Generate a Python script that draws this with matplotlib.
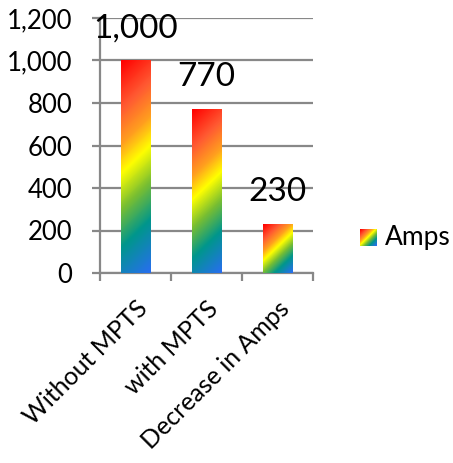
import numpy as np
import matplotlib
matplotlib.use("Agg")
import matplotlib.pyplot as plt
from matplotlib.colors import LinearSegmentedColormap

categories = ["Without MPTS", "with MPTS", "Decrease in Amps"]
amps = [1000, 770, 230]
value_labels = ["1,000", "770", "230"]
y_ticks = [0, 200, 400, 600, 800, 1000, 1200]
y_tick_labels = ["0", "200", "400", "600", "800", "1,000", "1,200"]
series_name = "Amps"

W, H = 453, 463
DPI = 100
plt.rcParams['font.family'] = ['Lato', 'DejaVu Sans']

stops = [(0.0, (255, 0, 0)), (0.2, (255, 90, 50)), (0.35, (255, 160, 30)),
         (0.47, (255, 255, 0)), (0.62, (120, 190, 50)), (0.78, (0, 150, 140)),
         (1.0, (40, 110, 240))]
cmap = LinearSegmentedColormap.from_list(
    "rainbow_office", [(p, tuple(c / 255 for c in col)) for p, col in stops])

fig = plt.figure(figsize=(W / DPI, H / DPI), dpi=DPI)
ax = fig.add_axes([100 / W, (H - 273) / H, 213 / W, 255 / H])
grid_c = "#888888"

n = len(categories)
ax.set_xlim(0, n)
ax.set_ylim(0, 1200)
ax.set_yticks(y_ticks)
ax.set_yticklabels(y_tick_labels, fontsize=18.5)
ax.yaxis.grid(True, color=grid_c, linewidth=1.6)
ax.set_axisbelow(True)
ax.set_xticks(np.arange(n + 1))
ax.set_xticklabels([])
ax.set_xticks(np.arange(n) + 0.5, minor=True)
ax.set_xticklabels(categories, minor=True, rotation=45, ha='right',
                   rotation_mode='anchor', fontsize=18)
ax.tick_params(axis='x', which='minor', length=0, pad=17)
ax.tick_params(axis='x', which='major', length=5.8, width=1.6, color=grid_c)
ax.tick_params(axis='y', length=5.8, width=1.6, color=grid_c, pad=14)
for s in ['top', 'right']:
    ax.spines[s].set_visible(False)
for s in ['left', 'bottom']:
    ax.spines[s].set_color(grid_c)
    ax.spines[s].set_linewidth(1.6)

bar_w = 0.41
bars = ax.bar(np.arange(n) + 0.5, amps, width=bar_w, color='none', zorder=2)
fig.canvas.draw()
for b, lab in zip(bars, value_labels):
    x0, y0 = b.get_x(), b.get_y()
    w, h = b.get_width(), b.get_height()
    p0 = ax.transData.transform((x0, y0))
    p1 = ax.transData.transform((x0 + w, y0 + h))
    nx = max(int(round(p1[0] - p0[0])), 2)
    ny = max(int(round(p1[1] - p0[1])), 2)
    jj, ii = np.meshgrid(np.arange(nx), np.arange(ny))
    t = (jj + ii) / (nx + ny - 2)
    ax.imshow(t, cmap=cmap, vmin=0, vmax=1, extent=(x0, x0 + w, y0, y0 + h),
              origin='upper', aspect='auto', interpolation='bilinear', zorder=3)
    ax.text(x0 + w / 2, y0 + h + 150, lab, ha='center', va='center', fontsize=24)
ax.set_xlim(0, n)
ax.set_ylim(0, 1200)

# legend
lx0, ly0, ls = 360, 229, 17
lax = fig.add_axes([lx0 / W, (H - ly0 - ls) / H, ls / W, ls / H])
jj, ii = np.meshgrid(np.arange(ls), np.arange(ls))
lax.imshow((jj + ii) / (2 * ls - 2), cmap=cmap, vmin=0, vmax=1, aspect='auto',
           interpolation='bilinear')
lax.axis('off')
fig.text(385 / W, (H - 238) / H, series_name, ha='left', va='center', fontsize=19)

fig.savefig("out.png", dpi=DPI)
